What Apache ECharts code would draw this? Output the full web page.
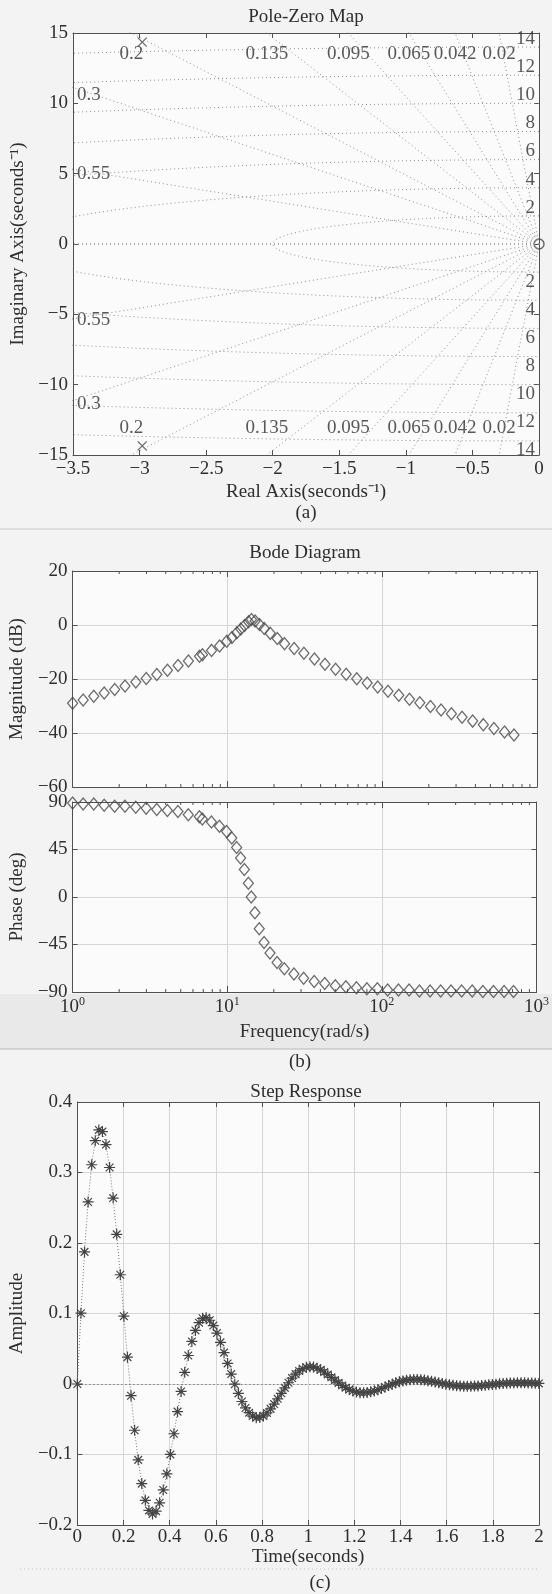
<!DOCTYPE html>
<html>
<head>
<meta charset="utf-8">
<script src="https://cdn.jsdelivr.net/npm/echarts@6/dist/echarts.min.js"></script>
<style>
html, body { margin: 0; padding: 0; background: #f3f3f3; }
#main { width: 552px; height: 1594px; }
</style>
</head>
<body>
<div id="main"></div>
<script>
(function () {
    'use strict';

    // ---- (a) pole-zero map ----
    var pzPoles = [[-2.98, 14.35], [-2.98, -14.35]];
    var pzZeros = [[0, 0]];
    var dampValues = [0.02, 0.042, 0.065, 0.095, 0.135, 0.2, 0.3, 0.55, 1];
    var dampTopLabels = ['0.02', '0.042', '0.065', '0.095', '0.135', '0.2'];
    var dampSideLabels = ['0.3', '0.55'];
    var dampSideY = [[10.6, -11.4], [5.0, -5.4]];
    var wnValues = [2, 4, 6, 8, 10, 12, 14];

    // ---- (b) bode ----
    var bodeFreq = [1.0, 1.17, 1.37, 1.6, 1.87, 2.18, 2.56, 2.99, 3.5, 4.1,
        4.8, 5.6, 6.6, 6.9, 7.9, 8.9, 9.9, 10.7, 11.5, 12.2,
        12.9, 13.7, 14.3, 15.1, 16.1, 17.3, 18.9, 21.0, 23.4, 27.0,
        31.2, 36.5, 42.7, 50.0, 58.5, 68.5, 80.0, 93.5, 109, 128,
        150, 175, 205, 240, 280, 328, 384, 450, 527, 617, 710];
    var bodeMag = [-29.0, -27.8, -26.4, -25.2, -23.9, -22.6, -21.1, -19.8, -18.3, -16.8,
        -15.0, -13.3, -11.6, -11.0, -9.4, -7.8, -6.0, -4.6, -2.9, -1.5,
        -0.2, 1.2, 2.0, 1.5, 0.2, -1.3, -3.1, -5.0, -6.9, -8.7,
        -10.5, -12.6, -14.5, -16.4, -18.2, -19.9, -21.5, -23.0, -24.5, -26.0,
        -27.5, -28.8, -30.2, -31.5, -32.9, -34.2, -35.6, -36.9, -38.3, -39.6, -40.7];
    var bodePhase = [89, 88, 88, 87, 86, 86, 85, 84, 83, 82,
        81, 78, 76, 74, 71, 67, 62, 56, 47, 37,
        26, 13, 0, -15, -30, -43, -53, -62, -68, -73,
        -77, -80, -82, -84, -85, -86, -87, -87, -88, -88,
        -88, -89, -89, -89, -89, -89, -89, -89.5, -89.5, -89.5, -89.5];

    // ---- (c) step response ----
    var stepDt = 0.0155;
    var stepAmp = [
        0, 0.1004, 0.1874, 0.2582, 0.3110, 0.3451, 0.3604, 0.3580, 0.3396, 0.3071,
        0.2637, 0.2123, 0.1550, 0.0962, 0.0381, -0.0166, -0.0656, -0.1076, -0.1413, -0.1650,
        -0.1793, -0.1843, -0.1804, -0.1685, -0.1503, -0.1274, -0.0999, -0.0706, -0.0392, -0.0105,
        0.0166, 0.0404, 0.0604, 0.0760, 0.0870, 0.0932, 0.0941, 0.0904, 0.0829, 0.0722,
        0.0591, 0.0445, 0.0292, 0.0141, -0.0003, -0.0134, -0.0248, -0.0340, -0.0407, -0.0455,
        -0.0477, -0.0475, -0.0452, -0.0410, -0.0353, -0.0285, -0.0210, -0.0132, -0.0055, 0.0018,
        0.0084, 0.0140, 0.0185, 0.0217, 0.0237, 0.0244, 0.0240, 0.0224, 0.0201, 0.0170,
        0.0134, 0.0095, 0.0055, 0.0016, -0.0020, -0.0052, -0.0079, -0.0100, -0.0114, -0.0123,
        -0.0124, -0.0120, -0.0111, -0.0098, -0.0081, -0.0063, -0.0042, -0.0022, -0.0002, 0.0016,
        0.0031, 0.0044, 0.0054, 0.0060, 0.0063, 0.0063, 0.0060, 0.0055, 0.0047, 0.0038,
        0.0028, 0.0018, 0.0008, -0.0002, -0.0011, -0.0018, -0.0024, -0.0029, -0.0031, -0.0032,
        -0.0032, -0.0030, -0.0027, -0.0022, -0.0018, -0.0012, -0.0007, -0.0002, 0.0003, 0.0007,
        0.0011, 0.0013, 0.0015, 0.0016, 0.0016, 0.0016, 0.0015, 0.0013, 0.0011, 0.0008
    ];

    var FONT = '"Liberation Serif", "Times New Roman", serif';
    var INK = '#2e2e2e';
    var AXIS = '#505050';
    var GRIDC = '#d6d6d6';
    var FS = 19;

    function minus(v) {
        return String(v).replace('-', '\u2212');
    }

    function lbl(show, margin, fmt) {
        return { show: show, margin: margin, color: INK, fontFamily: FONT, fontSize: FS, formatter: fmt };
    }

    function xAx(gi, pos, extra) {
        var a = {
            gridIndex: gi, position: pos, type: 'value',
            axisLine: { show: true, onZero: false, lineStyle: { color: AXIS, width: 1 } },
            axisTick: { show: true, inside: true, length: 5, lineStyle: { color: AXIS } },
            axisLabel: { show: false },
            splitLine: { show: false }
        };
        for (var k in extra) a[k] = extra[k];
        return a;
    }
    var yAx = xAx;

    var nameStyle = { color: INK, fontFamily: FONT, fontSize: FS };

    // sgrid: damping rays and wn circles
    var sgridSeries = [];
    var dotted = { color: '#8e8e8e', width: 1, type: [1, 3] };
    dampValues.forEach(function (z) {
        var R = 18;
        var s = Math.sqrt(1 - z * z);
        [1, -1].forEach(function (sg) {
            sgridSeries.push({
                type: 'line', xAxisIndex: 0, yAxisIndex: 0, symbol: 'none', silent: true,
                lineStyle: dotted, data: [[0, 0], [-z * R, sg * s * R]]
            });
        });
    });
    wnValues.forEach(function (wn) {
        var pts = [];
        for (var d = 90; d <= 270; d += 1) {
            var t = d * Math.PI / 180;
            pts.push([wn * Math.cos(t), wn * Math.sin(t)]);
        }
        sgridSeries.push({
            type: 'line', xAxisIndex: 0, yAxisIndex: 0, symbol: 'none', silent: true,
            lineStyle: dotted, data: pts
        });
    });

    // text labels inside the pole-zero map
    var pzText = [];
    dampTopLabels.forEach(function (t) {
        var z = parseFloat(t);
        var x = -15 * z / Math.sqrt(1 - z * z);
        pzText.push({ value: [x, 13.5], name: t, label: { align: 'center', verticalAlign: 'middle' } });
        pzText.push({ value: [x, -13.1], name: t, label: { align: 'center', verticalAlign: 'middle' } });
    });
    dampSideLabels.forEach(function (t, i) {
        pzText.push({ value: [-3.47, dampSideY[i][0]], name: t, label: { align: 'left', verticalAlign: 'middle' } });
        pzText.push({ value: [-3.47, dampSideY[i][1]], name: t, label: { align: 'left', verticalAlign: 'middle' } });
    });
    wnValues.forEach(function (wn) {
        pzText.push({ value: [-0.03, wn - 0.1], name: String(wn), label: { align: 'right', verticalAlign: 'bottom' } });
        pzText.push({ value: [-0.03, -wn], name: String(wn), label: { align: 'right', verticalAlign: 'top' } });
    });

    // minor log ticks
    var minorFreq = [];
    [1, 10, 100].forEach(function (dec) {
        for (var m = 2; m <= 9; m++) minorFreq.push(dec * m);
    });
    function minorTicks(yTop, yBot) {
        return function (params, api) {
            var f = api.value(0);
            var a = api.coord([f, yTop]);
            var b = api.coord([f, yBot]);
            return {
                type: 'group', children: [
                    { type: 'line', shape: { x1: a[0], y1: a[1], x2: a[0], y2: a[1] + 3 }, style: { stroke: AXIS, lineWidth: 1 } },
                    { type: 'line', shape: { x1: b[0], y1: b[1], x2: b[0], y2: b[1] - 3 }, style: { stroke: AXIS, lineWidth: 1 } }
                ]
            };
        };
    }

    var pathX = 'path://M0 0L10 10M10 0L0 10';
    var pathStar = 'path://M5 0L5 10M0 5L10 5M1.5 1.5L8.5 8.5M1.5 8.5L8.5 1.5';
    var diamondStyle = { color: 'rgba(0,0,0,0)', borderColor: '#474747', borderWidth: 1.3 };

    function logFmt(v) {
        var e = Math.round(Math.log(v) / Math.LN10);
        return '{b|10}{s|' + e + '}';
    }

    function caption(text, x, y) {
        return {
            type: 'text', x: x, y: y,
            style: { text: text, font: FS + 'px ' + FONT, fill: INK, align: 'center', verticalAlign: 'middle', textAlign: 'center', textVerticalAlign: 'middle' }
        };
    }

    var option = {
        backgroundColor: '#f3f3f3',
        animation: false,
        grid: [
            { left: 73, top: 33, width: 466, height: 422, show: true, backgroundColor: '#fbfbfb', borderWidth: 0 },
            { left: 72, top: 571, width: 465, height: 216, show: true, backgroundColor: '#fbfbfb', borderWidth: 0 },
            { left: 72, top: 802, width: 465, height: 190, show: true, backgroundColor: '#fbfbfb', borderWidth: 0 },
            { left: 73, top: 1102, width: 466, height: 423, show: true, backgroundColor: '#fbfbfb', borderWidth: 0 }
        ],
        xAxis: [
            xAx(0, 'bottom', {
                min: -3.5, max: 0, interval: 0.5, axisLabel: lbl(true, 5, minus),
                name: 'Real Axis(seconds\u207B\u00B9)', nameLocation: 'middle', nameGap: 28, nameTextStyle: nameStyle
            }),
            xAx(0, 'top', { min: -3.5, max: 0, interval: 0.5 }),
            xAx(1, 'bottom', {
                type: 'log', logBase: 10, min: 1, max: 1000,
                axisTick: { show: true, inside: true, length: 6, lineStyle: { color: AXIS } },
                splitLine: { show: true, lineStyle: { color: GRIDC, width: 1 } }
            }),
            xAx(1, 'top', { type: 'log', logBase: 10, min: 1, max: 1000, axisTick: { show: true, inside: true, length: 6, lineStyle: { color: AXIS } } }),
            xAx(2, 'bottom', {
                type: 'log', logBase: 10, min: 1, max: 1000,
                axisTick: { show: true, inside: true, length: 6, lineStyle: { color: AXIS } },
                splitLine: { show: true, lineStyle: { color: GRIDC, width: 1 } },
                axisLabel: {
                    show: true, margin: 4, color: INK, fontFamily: FONT, formatter: logFmt,
                    rich: {
                        b: { fontFamily: FONT, fontSize: FS, color: INK, lineHeight: 22 },
                        s: { fontFamily: FONT, fontSize: 12, color: INK, verticalAlign: 'top', lineHeight: 12 }
                    }
                },
                name: 'Frequency(rad/s)', nameLocation: 'middle', nameGap: 31, nameTextStyle: nameStyle
            }),
            xAx(2, 'top', { type: 'log', logBase: 10, min: 1, max: 1000, axisTick: { show: true, inside: true, length: 6, lineStyle: { color: AXIS } } }),
            xAx(3, 'bottom', {
                min: 0, max: 2, interval: 0.2, axisLabel: lbl(true, 3),
                splitLine: { show: true, lineStyle: { color: GRIDC, width: 1 } },
                name: 'Time(seconds)', nameLocation: 'middle', nameGap: 22, nameTextStyle: nameStyle
            }),
            xAx(3, 'top', { min: 0, max: 2, interval: 0.2 })
        ],
        yAxis: [
            yAx(0, 'left', {
                min: -15, max: 15, interval: 5, axisLabel: lbl(true, 5, minus),
                name: 'Imaginary Axis(seconds\u207B\u00B9)', nameLocation: 'middle', nameGap: 34, nameTextStyle: nameStyle
            }),
            yAx(0, 'right', { min: -15, max: 15, interval: 5 }),
            yAx(1, 'left', {
                min: -60, max: 20, interval: 20, axisLabel: lbl(true, 5, minus),
                splitLine: { show: true, lineStyle: { color: GRIDC, width: 1 } },
                name: 'Magnitude (dB)', nameLocation: 'middle', nameGap: 35, nameTextStyle: nameStyle
            }),
            yAx(1, 'right', { min: -60, max: 20, interval: 20 }),
            yAx(2, 'left', {
                min: -90, max: 90, interval: 45, axisLabel: lbl(true, 5, minus),
                splitLine: { show: true, lineStyle: { color: GRIDC, width: 1 } },
                name: 'Phase (deg)', nameLocation: 'middle', nameGap: 36, nameTextStyle: nameStyle
            }),
            yAx(2, 'right', { min: -90, max: 90, interval: 45 }),
            yAx(3, 'left', {
                min: -0.2, max: 0.4, interval: 0.1, axisLabel: lbl(true, 5, minus),
                splitLine: { show: true, lineStyle: { color: GRIDC, width: 1 } },
                name: 'Amplitude', nameLocation: 'middle', nameGap: 32, nameTextStyle: nameStyle
            }),
            yAx(3, 'right', { min: -0.2, max: 0.4, interval: 0.1 })
        ],
        series: sgridSeries.concat([
            {
                type: 'scatter', xAxisIndex: 0, yAxisIndex: 0, symbolSize: 0, silent: true,
                label: { show: true, position: [0, 0], formatter: '{b}', color: INK, fontFamily: FONT, fontSize: FS },
                data: pzText
            },
            {
                type: 'scatter', xAxisIndex: 0, yAxisIndex: 0, symbol: pathX, symbolSize: 9,
                itemStyle: { color: 'none', borderColor: '#444', borderWidth: 1.3 },
                data: pzPoles
            },
            {
                type: 'scatter', xAxisIndex: 0, yAxisIndex: 0, symbol: 'circle', symbolSize: 10,
                itemStyle: { color: 'rgba(0,0,0,0)', borderColor: '#444', borderWidth: 1.4 },
                data: pzZeros
            },
            {
                type: 'scatter', xAxisIndex: 2, yAxisIndex: 2, symbol: 'diamond', symbolSize: [10, 12],
                itemStyle: diamondStyle,
                data: bodeFreq.map(function (f, i) { return [f, bodeMag[i]]; })
            },
            {
                type: 'scatter', xAxisIndex: 4, yAxisIndex: 4, symbol: 'diamond', symbolSize: [10, 12],
                itemStyle: diamondStyle,
                data: bodeFreq.map(function (f, i) { return [f, bodePhase[i]]; })
            },
            {
                type: 'custom', xAxisIndex: 2, yAxisIndex: 2, silent: true,
                renderItem: minorTicks(20, -60),
                data: minorFreq.map(function (f) { return [f, -60]; })
            },
            {
                type: 'custom', xAxisIndex: 4, yAxisIndex: 4, silent: true,
                renderItem: minorTicks(90, -90),
                data: minorFreq.map(function (f) { return [f, -90]; })
            },
            {
                type: 'line', xAxisIndex: 6, yAxisIndex: 6,
                symbol: pathStar, symbolSize: 11, showSymbol: true, showAllSymbol: true,
                itemStyle: { color: 'none', borderColor: '#444', borderWidth: 1.2 },
                lineStyle: { color: '#777', width: 1, type: [1, 2] },
                markLine: {
                    silent: true, symbol: 'none', label: { show: false },
                    lineStyle: { color: '#555', width: 1, type: [1, 3] },
                    data: [{ yAxis: 0 }]
                },
                data: stepAmp.map(function (v, k) { return [k * stepDt, v]; })
            }
        ]),
        graphic: [
            { type: 'rect', z: -1, shape: { x: 0, y: 994, width: 552, height: 55 }, style: { fill: '#e9e9e9' } },
            { type: 'line', shape: { x1: 0, y1: 529, x2: 552, y2: 529 }, style: { stroke: '#c8c8c8', lineWidth: 1 } },
            { type: 'line', shape: { x1: 0, y1: 1049, x2: 552, y2: 1049 }, style: { stroke: '#b8b8b8', lineWidth: 1 } },
            { type: 'line', shape: { x1: 20, y1: 1569, x2: 540, y2: 1569 }, style: { stroke: '#c4c4c4', lineWidth: 1, lineDash: [1, 3] } },
            caption('Pole-Zero Map', 306, 17),
            caption('(a)', 306, 513),
            caption('Bode Diagram', 305, 553),
            caption('(b)', 300, 1062),
            caption('Step Response', 306, 1092),
            caption('(c)', 320, 1583)
        ]
    };

    var chart = echarts.init(document.getElementById('main'));
    chart.setOption(option);
})();
</script>
</body>
</html>
